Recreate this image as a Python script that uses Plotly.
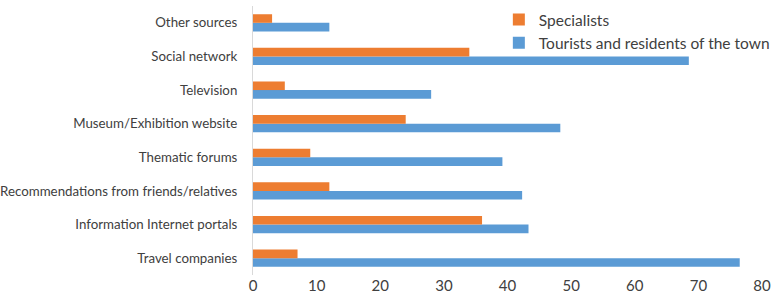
import plotly.graph_objects as go

categories = ["Travel companies", "Information Internet portals",
              "Recommendations from friends/relatives", "Thematic forums",
              "Museum/Exhibition website", "Television", "Social network",
              "Other sources"]
tourists = [76.5, 43.3, 42.3, 39.2, 48.3, 28, 68.5, 12]
specialists = [7, 36, 12, 9, 24, 5, 34, 3]
x_ticks = [0, 10, 20, 30, 40, 50, 60, 70, 80]

fig = go.Figure()
fig.add_trace(go.Bar(y=categories, x=tourists, orientation="h",
                     name="Tourists and residents of the town",
                     marker=dict(color="#5B9BD5", line=dict(width=0))))
fig.add_trace(go.Bar(y=categories, x=specialists, orientation="h",
                     name="Specialists",
                     marker=dict(color="#ED7D31", line=dict(width=0))))

fig.update_layout(
    width=778, height=304,
    margin=dict(l=253, r=14, t=3, b=29),
    barmode="group", bargap=0.49, bargroupgap=0,
    plot_bgcolor="white", paper_bgcolor="white",
    font=dict(family="Lato, Open Sans, sans-serif", color="#404040"),
    xaxis=dict(range=[0, 80], tickvals=x_ticks, showgrid=False, zeroline=False,
               showline=False, ticks="", automargin=False,
               tickfont=dict(size=15, color="#404040")),
    yaxis=dict(showgrid=False, zeroline=False, showline=True, linecolor="#D9D9D9",
               linewidth=1, ticks="", automargin=False, ticklabelstandoff=12,
               tickfont=dict(size=13.3, color="#404040")),
    legend=dict(x=0.483, y=1.011, xanchor="left", yanchor="top",
                traceorder="reversed", font=dict(size=15.5, color="#404040"),
                bgcolor="rgba(255,255,255,0)", itemwidth=30, tracegroupgap=0),
    showlegend=True,
)

fig.write_html("out.html", config={"displayModeBar": False},
               post_script="document.body.style.margin='0';document.body.style.overflow='hidden';")
